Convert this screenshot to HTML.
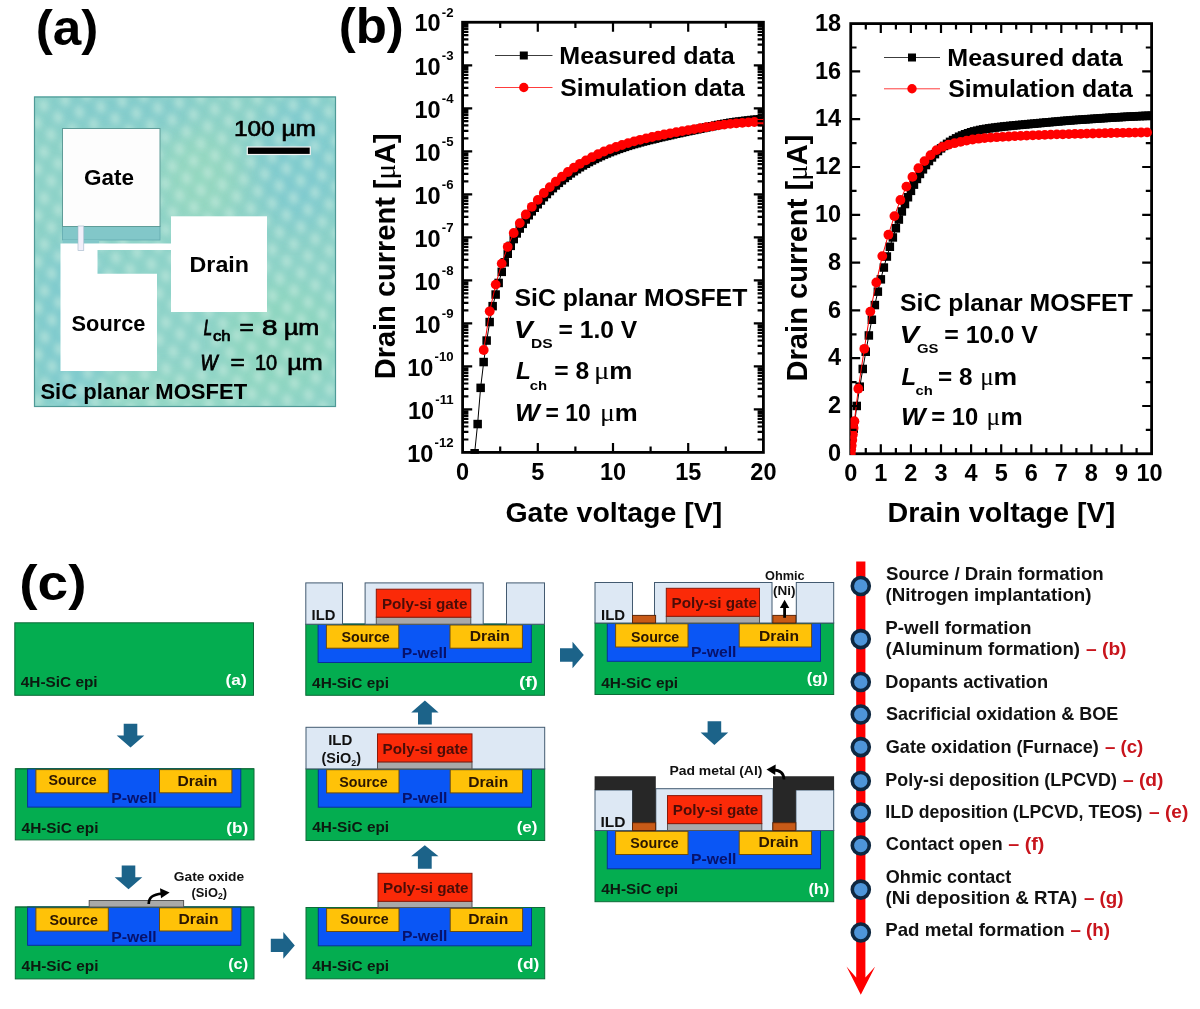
<!DOCTYPE html>
<html><head><meta charset="utf-8"><title>SiC planar MOSFET figure</title>
<style>
html,body{margin:0;padding:0;background:#fff;}
svg{display:block;font-family:'Liberation Sans', sans-serif;}
</style></head><body>
<svg width="1200" height="1009" viewBox="0 0 1200 1009">
<rect width="1200" height="1009" fill="#fff"/>
<defs>
<filter id="blur12" x="-50%" y="-50%" width="200%" height="200%"><feGaussianBlur stdDeviation="14"/></filter>
<filter id="blur3" x="-20%" y="-20%" width="140%" height="140%"><feGaussianBlur stdDeviation="3"/></filter>
<pattern id="dots" x="0" y="0" width="22" height="30" patternUnits="userSpaceOnUse" patternTransform="rotate(-14)">
<ellipse cx="6" cy="8" rx="4.5" ry="6.5" fill="#cdeee2"/>
<ellipse cx="17" cy="23" rx="4.5" ry="6.5" fill="#cdeee2"/>
</pattern>
<clipPath id="photoClip"><rect x="34" y="96.5" width="302" height="310.5"/></clipPath>
<clipPath id="clipL"><rect x="462.6" y="22.25" width="300.8" height="431.4"/></clipPath>
<clipPath id="clipR"><rect x="850.5" y="23.6" width="302.4" height="431.5"/></clipPath>
</defs>
<text x="35.7" y="44.8" font-size="50" fill="#000" font-weight="bold" textLength="62.6" lengthAdjust="spacingAndGlyphs">(a)</text>
<text x="338.7" y="43.3" font-size="50" fill="#000" font-weight="bold" textLength="65.1" lengthAdjust="spacingAndGlyphs">(b)</text>
<text x="19.2" y="600.2" font-size="50.5" fill="#000" font-weight="bold" textLength="67.3" lengthAdjust="spacingAndGlyphs">(c)</text>
<rect x="34.0" y="96.5" width="302.0" height="310.5" fill="#8dd2c8"/>
<g clip-path="url(#photoClip)"><g filter="url(#blur12)" opacity="0.55"><ellipse cx="70" cy="330" rx="40" ry="90" fill="#74c4d2"/><ellipse cx="300" cy="160" rx="45" ry="70" fill="#78c6d4"/><ellipse cx="200" cy="180" rx="40" ry="50" fill="#9cdcbc"/><ellipse cx="280" cy="340" rx="60" ry="60" fill="#8fd8ba"/><ellipse cx="120" cy="110" rx="80" ry="20" fill="#7ac6d0"/><ellipse cx="180" cy="395" rx="90" ry="18" fill="#9adcc0"/></g><rect x="20" y="80" width="340" height="350" fill="url(#dots)" filter="url(#blur3)" opacity="0.6"/></g>
<rect x="34.5" y="97" width="301" height="309.5" fill="none" stroke="#4f9a97" stroke-width="1.2"/>
<rect x="62.5" y="226.0" width="97.5" height="14.0" fill="#82c7c9" stroke="#62aab0" stroke-width="0.8"/>
<rect x="62.5" y="240.0" width="36.5" height="3.5" fill="#82c7c9"/>
<rect x="62.5" y="128.5" width="97.5" height="98.0" fill="#fdfdfd" stroke="#5f9c98" stroke-width="1"/>
<rect x="171.0" y="216.3" width="96.0" height="95.7" fill="#ffffff"/>
<path d="M60.5 243.5 H171 V250 H97.5 V273.8 H157 V371 H60.5 Z" fill="#ffffff"/>
<rect x="78.0" y="226.0" width="5.8" height="24.6" fill="#f2effa" stroke="#9fb7c8" stroke-width="0.6"/>
<rect x="247.3" y="147.0" width="63.0" height="7.5" fill="#000" stroke="#f4f4f4" stroke-width="1.2"/>
<text x="233.9" y="136.2" font-size="22.5" fill="#000" font-weight="normal" textLength="82.0" lengthAdjust="spacingAndGlyphs" stroke="#000" stroke-width="0.7">100 µm</text>
<text x="84.1" y="185.3" font-size="22.5" fill="#000" font-weight="bold" textLength="50.0" lengthAdjust="spacingAndGlyphs">Gate</text>
<text x="189.6" y="272.0" font-size="22.5" fill="#000" font-weight="bold" textLength="59.4" lengthAdjust="spacingAndGlyphs">Drain</text>
<text x="71.6" y="330.6" font-size="22.5" fill="#000" font-weight="bold" textLength="73.8" lengthAdjust="spacingAndGlyphs">Source</text>
<text x="40.4" y="398.8" font-size="22.5" fill="#000" font-weight="bold" textLength="206.7" lengthAdjust="spacingAndGlyphs">SiC planar MOSFET</text>
<text x="203.7" y="335.1" font-size="21.5" fill="#000" font-weight="normal" textLength="8.3" lengthAdjust="spacingAndGlyphs" font-style="italic" stroke="#000" stroke-width="1">L</text>
<text x="212.9" y="341.0" font-size="15" fill="#000" font-weight="normal" textLength="17.6" lengthAdjust="spacingAndGlyphs" stroke="#000" stroke-width="0.7">ch</text>
<text x="239.4" y="335.1" font-size="21.5" fill="#000" font-weight="normal" textLength="14.2" lengthAdjust="spacingAndGlyphs" stroke="#000" stroke-width="0.7">=</text>
<text x="262.0" y="335.1" font-size="21.5" fill="#000" font-weight="normal" textLength="15.5" lengthAdjust="spacingAndGlyphs" stroke="#000" stroke-width="0.7">8</text>
<text x="283.9" y="335.1" font-size="21.5" fill="#000" font-weight="normal" textLength="35.4" lengthAdjust="spacingAndGlyphs" stroke="#000" stroke-width="0.7">µm</text>
<text x="200.5" y="370.0" font-size="21.5" fill="#000" font-weight="normal" textLength="17.1" lengthAdjust="spacingAndGlyphs" font-style="italic" stroke="#000" stroke-width="0.9">W</text>
<text x="230.4" y="370.0" font-size="21.5" fill="#000" font-weight="normal" textLength="14.2" lengthAdjust="spacingAndGlyphs" stroke="#000" stroke-width="0.7">=</text>
<text x="254.9" y="370.0" font-size="21.5" fill="#000" font-weight="normal" textLength="22.2" lengthAdjust="spacingAndGlyphs" stroke="#000" stroke-width="0.7">10</text>
<text x="287.2" y="370.0" font-size="21.5" fill="#000" font-weight="normal" textLength="35.5" lengthAdjust="spacingAndGlyphs" stroke="#000" stroke-width="0.7">µm</text>
<rect x="462.6" y="22.25" width="300.79999999999995" height="430.15" fill="none" stroke="#000" stroke-width="2.8"/>
<g clip-path="url(#clipL)">
<polyline fill="none" stroke="#000" stroke-width="1" points="474.6,453.3 477.6,424.0 480.6,387.9 483.7,362.1 486.7,340.6 489.7,322.1 492.7,306.1 495.7,294.5 498.7,282.9 501.7,271.9 504.7,262.3 507.7,253.7 510.7,245.9 513.7,239.0 516.7,233.5 519.8,228.6 522.8,223.9 525.8,219.5 528.8,215.3 531.8,211.3 534.8,207.7 537.8,204.2 540.8,200.6 543.8,197.1 546.8,194.0 549.8,191.0 552.8,188.2 555.8,185.4 558.9,182.8 561.9,180.3 564.9,177.9 567.9,175.6 570.9,173.4 573.9,171.3 576.9,169.2 579.9,167.3 582.9,165.5 585.9,163.7 588.9,162.1 591.9,160.5 595.0,158.9 598.0,157.5 601.0,156.0 604.0,154.7 607.0,153.4 610.0,152.2 613.0,151.0 616.0,149.9 619.0,148.8 622.0,147.8 625.0,146.8 628.0,145.9 631.0,145.0 634.1,144.1 637.1,143.2 640.1,142.4 643.1,141.6 646.1,140.8 649.1,140.1 652.1,139.3 655.1,138.6 658.1,137.9 661.1,137.2 664.1,136.5 667.1,135.8 670.2,135.1 673.2,134.4 676.2,133.8 679.2,133.1 682.2,132.5 685.2,131.8 688.2,131.2 691.2,130.6 694.2,130.0 697.2,129.3 700.2,128.7 703.2,128.1 706.2,127.5 709.3,126.8 712.3,126.2 715.3,125.6 718.3,125.0 721.3,124.4 724.3,123.8 727.3,123.3 730.3,122.8 733.3,122.3 736.3,121.9 739.3,121.5 742.3,121.1 745.4,120.8 748.4,120.4 751.4,120.1 754.4,119.8 757.4,119.5 760.4,119.3 763.4,119.0"/>
<g fill="#000"><rect x="470.4" y="449.0" width="8.5" height="8.5"/><rect x="473.4" y="419.8" width="8.5" height="8.5"/><rect x="476.4" y="383.6" width="8.5" height="8.5"/><rect x="479.4" y="357.8" width="8.5" height="8.5"/><rect x="482.4" y="336.3" width="8.5" height="8.5"/><rect x="485.4" y="317.8" width="8.5" height="8.5"/><rect x="488.4" y="301.9" width="8.5" height="8.5"/><rect x="491.4" y="290.3" width="8.5" height="8.5"/><rect x="494.4" y="278.7" width="8.5" height="8.5"/><rect x="497.5" y="267.6" width="8.5" height="8.5"/><rect x="500.5" y="258.1" width="8.5" height="8.5"/><rect x="503.5" y="249.5" width="8.5" height="8.5"/><rect x="506.5" y="241.6" width="8.5" height="8.5"/><rect x="509.5" y="234.8" width="8.5" height="8.5"/><rect x="512.5" y="229.2" width="8.5" height="8.5"/><rect x="515.5" y="224.3" width="8.5" height="8.5"/><rect x="518.5" y="219.6" width="8.5" height="8.5"/><rect x="521.5" y="215.2" width="8.5" height="8.5"/><rect x="524.5" y="211.0" width="8.5" height="8.5"/><rect x="527.5" y="207.1" width="8.5" height="8.5"/><rect x="530.5" y="203.5" width="8.5" height="8.5"/><rect x="533.5" y="200.0" width="8.5" height="8.5"/><rect x="536.6" y="196.3" width="8.5" height="8.5"/><rect x="539.6" y="192.9" width="8.5" height="8.5"/><rect x="542.6" y="189.8" width="8.5" height="8.5"/><rect x="545.6" y="186.8" width="8.5" height="8.5"/><rect x="548.6" y="183.9" width="8.5" height="8.5"/><rect x="551.6" y="181.2" width="8.5" height="8.5"/><rect x="554.6" y="178.6" width="8.5" height="8.5"/><rect x="557.6" y="176.1" width="8.5" height="8.5"/><rect x="560.6" y="173.7" width="8.5" height="8.5"/><rect x="563.6" y="171.4" width="8.5" height="8.5"/><rect x="566.6" y="169.1" width="8.5" height="8.5"/><rect x="569.6" y="167.0" width="8.5" height="8.5"/><rect x="572.7" y="165.0" width="8.5" height="8.5"/><rect x="575.7" y="163.0" width="8.5" height="8.5"/><rect x="578.7" y="161.2" width="8.5" height="8.5"/><rect x="581.7" y="159.5" width="8.5" height="8.5"/><rect x="584.7" y="157.8" width="8.5" height="8.5"/><rect x="587.7" y="156.2" width="8.5" height="8.5"/><rect x="590.7" y="154.7" width="8.5" height="8.5"/><rect x="593.7" y="153.2" width="8.5" height="8.5"/><rect x="596.7" y="151.8" width="8.5" height="8.5"/><rect x="599.7" y="150.4" width="8.5" height="8.5"/><rect x="602.7" y="149.2" width="8.5" height="8.5"/><rect x="605.7" y="147.9" width="8.5" height="8.5"/><rect x="608.8" y="146.8" width="8.5" height="8.5"/><rect x="611.8" y="145.7" width="8.5" height="8.5"/><rect x="614.8" y="144.6" width="8.5" height="8.5"/><rect x="617.8" y="143.6" width="8.5" height="8.5"/><rect x="620.8" y="142.6" width="8.5" height="8.5"/><rect x="623.8" y="141.6" width="8.5" height="8.5"/><rect x="626.8" y="140.7" width="8.5" height="8.5"/><rect x="629.8" y="139.8" width="8.5" height="8.5"/><rect x="632.8" y="139.0" width="8.5" height="8.5"/><rect x="635.8" y="138.1" width="8.5" height="8.5"/><rect x="638.8" y="137.3" width="8.5" height="8.5"/><rect x="641.8" y="136.6" width="8.5" height="8.5"/><rect x="644.8" y="135.8" width="8.5" height="8.5"/><rect x="647.9" y="135.1" width="8.5" height="8.5"/><rect x="650.9" y="134.4" width="8.5" height="8.5"/><rect x="653.9" y="133.6" width="8.5" height="8.5"/><rect x="656.9" y="132.9" width="8.5" height="8.5"/><rect x="659.9" y="132.2" width="8.5" height="8.5"/><rect x="662.9" y="131.6" width="8.5" height="8.5"/><rect x="665.9" y="130.9" width="8.5" height="8.5"/><rect x="668.9" y="130.2" width="8.5" height="8.5"/><rect x="671.9" y="129.5" width="8.5" height="8.5"/><rect x="674.9" y="128.9" width="8.5" height="8.5"/><rect x="677.9" y="128.2" width="8.5" height="8.5"/><rect x="680.9" y="127.6" width="8.5" height="8.5"/><rect x="684.0" y="126.9" width="8.5" height="8.5"/><rect x="687.0" y="126.3" width="8.5" height="8.5"/><rect x="690.0" y="125.7" width="8.5" height="8.5"/><rect x="693.0" y="125.1" width="8.5" height="8.5"/><rect x="696.0" y="124.5" width="8.5" height="8.5"/><rect x="699.0" y="123.8" width="8.5" height="8.5"/><rect x="702.0" y="123.2" width="8.5" height="8.5"/><rect x="705.0" y="122.6" width="8.5" height="8.5"/><rect x="708.0" y="122.0" width="8.5" height="8.5"/><rect x="711.0" y="121.3" width="8.5" height="8.5"/><rect x="714.0" y="120.7" width="8.5" height="8.5"/><rect x="717.0" y="120.1" width="8.5" height="8.5"/><rect x="720.0" y="119.6" width="8.5" height="8.5"/><rect x="723.1" y="119.0" width="8.5" height="8.5"/><rect x="726.1" y="118.5" width="8.5" height="8.5"/><rect x="729.1" y="118.1" width="8.5" height="8.5"/><rect x="732.1" y="117.6" width="8.5" height="8.5"/><rect x="735.1" y="117.3" width="8.5" height="8.5"/><rect x="738.1" y="116.9" width="8.5" height="8.5"/><rect x="741.1" y="116.5" width="8.5" height="8.5"/><rect x="744.1" y="116.2" width="8.5" height="8.5"/><rect x="747.1" y="115.8" width="8.5" height="8.5"/><rect x="750.1" y="115.5" width="8.5" height="8.5"/><rect x="753.1" y="115.3" width="8.5" height="8.5"/><rect x="756.1" y="115.0" width="8.5" height="8.5"/><rect x="759.1" y="114.8" width="8.5" height="8.5"/></g>
<polyline fill="none" stroke="#ff0000" stroke-width="1" points="483.7,350.0 489.7,311.3 495.7,284.6 501.7,263.6 507.7,246.8 513.7,233.0 519.8,223.1 525.8,214.5 531.8,206.8 537.8,199.9 543.8,193.0 549.8,187.1 555.8,181.6 561.9,176.6 567.9,172.0 573.9,167.7 579.9,163.8 585.9,160.4 591.9,157.2 598.0,154.2 604.0,151.5 610.0,149.1 616.0,147.0 622.0,145.0 628.0,143.1 634.1,141.4 640.1,139.8 646.1,138.4 652.1,137.0 658.1,135.7 664.1,134.5 670.2,133.3 676.2,132.2 682.2,131.1 688.2,130.1 694.2,129.1 700.2,128.1 706.2,127.2 712.3,126.3 718.3,125.4 724.3,124.6 730.3,123.9 736.3,123.3 742.3,122.8 748.4,122.4 754.4,122.0 760.4,121.7"/>
<g fill="#ff0000"><circle cx="483.7" cy="350.0" r="4.9"/><circle cx="489.7" cy="311.3" r="4.9"/><circle cx="495.7" cy="284.6" r="4.9"/><circle cx="501.7" cy="263.6" r="4.9"/><circle cx="507.7" cy="246.8" r="4.9"/><circle cx="513.7" cy="233.0" r="4.9"/><circle cx="519.8" cy="223.1" r="4.9"/><circle cx="525.8" cy="214.5" r="4.9"/><circle cx="531.8" cy="206.8" r="4.9"/><circle cx="537.8" cy="199.9" r="4.9"/><circle cx="543.8" cy="193.0" r="4.9"/><circle cx="549.8" cy="187.1" r="4.9"/><circle cx="555.8" cy="181.6" r="4.9"/><circle cx="561.9" cy="176.6" r="4.9"/><circle cx="567.9" cy="172.0" r="4.9"/><circle cx="573.9" cy="167.7" r="4.9"/><circle cx="579.9" cy="163.8" r="4.9"/><circle cx="585.9" cy="160.4" r="4.9"/><circle cx="591.9" cy="157.2" r="4.9"/><circle cx="598.0" cy="154.2" r="4.9"/><circle cx="604.0" cy="151.5" r="4.9"/><circle cx="610.0" cy="149.1" r="4.9"/><circle cx="616.0" cy="147.0" r="4.9"/><circle cx="622.0" cy="145.0" r="4.9"/><circle cx="628.0" cy="143.1" r="4.9"/><circle cx="634.1" cy="141.4" r="4.9"/><circle cx="640.1" cy="139.8" r="4.9"/><circle cx="646.1" cy="138.4" r="4.9"/><circle cx="652.1" cy="137.0" r="4.9"/><circle cx="658.1" cy="135.7" r="4.9"/><circle cx="664.1" cy="134.5" r="4.9"/><circle cx="670.2" cy="133.3" r="4.9"/><circle cx="676.2" cy="132.2" r="4.9"/><circle cx="682.2" cy="131.1" r="4.9"/><circle cx="688.2" cy="130.1" r="4.9"/><circle cx="694.2" cy="129.1" r="4.9"/><circle cx="700.2" cy="128.1" r="4.9"/><circle cx="706.2" cy="127.2" r="4.9"/><circle cx="712.3" cy="126.3" r="4.9"/><circle cx="718.3" cy="125.4" r="4.9"/><circle cx="724.3" cy="124.6" r="4.9"/><circle cx="730.3" cy="123.9" r="4.9"/><circle cx="736.3" cy="123.3" r="4.9"/><circle cx="742.3" cy="122.8" r="4.9"/><circle cx="748.4" cy="122.4" r="4.9"/><circle cx="754.4" cy="122.0" r="4.9"/><circle cx="760.4" cy="121.7" r="4.9"/></g>
</g>
<path d="M537.8 452.4v-9.4M613.0 452.4v-9.4M688.2 452.4v-9.4" stroke="#000" stroke-width="2.2" fill="none"/>
<path d="M537.8 22.25v9.4M613.0 22.25v9.4M688.2 22.25v9.4" stroke="#000" stroke-width="2.2" fill="none"/>
<path d="M500.2 452.4v-5.8M575.4 452.4v-5.8M650.6 452.4v-5.8M725.8 452.4v-5.8" stroke="#000" stroke-width="2.2" fill="none"/>
<path d="M500.2 22.25v5.8M575.4 22.25v5.8M650.6 22.25v5.8M725.8 22.25v5.8" stroke="#000" stroke-width="2.2" fill="none"/>
<path d="M462.6 65.3h9.6M462.6 108.3h9.6M462.6 151.3h9.6M462.6 194.3h9.6M462.6 237.3h9.6M462.6 280.3h9.6M462.6 323.4h9.6M462.6 366.4h9.6M462.6 409.4h9.6" stroke="#000" stroke-width="2.2" fill="none"/>
<path d="M763.4 65.3h-9.6M763.4 108.3h-9.6M763.4 151.3h-9.6M763.4 194.3h-9.6M763.4 237.3h-9.6M763.4 280.3h-9.6M763.4 323.4h-9.6M763.4 366.4h-9.6M763.4 409.4h-9.6" stroke="#000" stroke-width="2.2" fill="none"/>
<path d="M462.6 52.3h5.8M462.6 44.7h5.8M462.6 39.4h5.8M462.6 35.2h5.8M462.6 31.8h5.8M462.6 28.9h5.8M462.6 26.4h5.8M462.6 24.2h5.8M462.6 95.3h5.8M462.6 87.8h5.8M462.6 82.4h5.8M462.6 78.2h5.8M462.6 74.8h5.8M462.6 71.9h5.8M462.6 69.4h5.8M462.6 67.2h5.8M462.6 138.3h5.8M462.6 130.8h5.8M462.6 125.4h5.8M462.6 121.2h5.8M462.6 117.8h5.8M462.6 114.9h5.8M462.6 112.4h5.8M462.6 110.2h5.8M462.6 181.4h5.8M462.6 173.8h5.8M462.6 168.4h5.8M462.6 164.2h5.8M462.6 160.8h5.8M462.6 158.0h5.8M462.6 155.5h5.8M462.6 153.3h5.8M462.6 224.4h5.8M462.6 216.8h5.8M462.6 211.4h5.8M462.6 207.3h5.8M462.6 203.9h5.8M462.6 201.0h5.8M462.6 198.5h5.8M462.6 196.3h5.8M462.6 267.4h5.8M462.6 259.8h5.8M462.6 254.4h5.8M462.6 250.3h5.8M462.6 246.9h5.8M462.6 244.0h5.8M462.6 241.5h5.8M462.6 239.3h5.8M462.6 310.4h5.8M462.6 302.8h5.8M462.6 297.5h5.8M462.6 293.3h5.8M462.6 289.9h5.8M462.6 287.0h5.8M462.6 284.5h5.8M462.6 282.3h5.8M462.6 353.4h5.8M462.6 345.8h5.8M462.6 340.5h5.8M462.6 336.3h5.8M462.6 332.9h5.8M462.6 330.0h5.8M462.6 327.5h5.8M462.6 325.3h5.8M462.6 396.4h5.8M462.6 388.9h5.8M462.6 383.5h5.8M462.6 379.3h5.8M462.6 375.9h5.8M462.6 373.0h5.8M462.6 370.5h5.8M462.6 368.3h5.8M462.6 439.5h5.8M462.6 431.9h5.8M462.6 426.5h5.8M462.6 422.3h5.8M462.6 418.9h5.8M462.6 416.0h5.8M462.6 413.6h5.8M462.6 411.4h5.8" stroke="#000" stroke-width="2.2" fill="none"/>
<path d="M763.4 52.3h-5.8M763.4 44.7h-5.8M763.4 39.4h-5.8M763.4 35.2h-5.8M763.4 31.8h-5.8M763.4 28.9h-5.8M763.4 26.4h-5.8M763.4 24.2h-5.8M763.4 95.3h-5.8M763.4 87.8h-5.8M763.4 82.4h-5.8M763.4 78.2h-5.8M763.4 74.8h-5.8M763.4 71.9h-5.8M763.4 69.4h-5.8M763.4 67.2h-5.8M763.4 138.3h-5.8M763.4 130.8h-5.8M763.4 125.4h-5.8M763.4 121.2h-5.8M763.4 117.8h-5.8M763.4 114.9h-5.8M763.4 112.4h-5.8M763.4 110.2h-5.8M763.4 181.4h-5.8M763.4 173.8h-5.8M763.4 168.4h-5.8M763.4 164.2h-5.8M763.4 160.8h-5.8M763.4 158.0h-5.8M763.4 155.5h-5.8M763.4 153.3h-5.8M763.4 224.4h-5.8M763.4 216.8h-5.8M763.4 211.4h-5.8M763.4 207.3h-5.8M763.4 203.9h-5.8M763.4 201.0h-5.8M763.4 198.5h-5.8M763.4 196.3h-5.8M763.4 267.4h-5.8M763.4 259.8h-5.8M763.4 254.4h-5.8M763.4 250.3h-5.8M763.4 246.9h-5.8M763.4 244.0h-5.8M763.4 241.5h-5.8M763.4 239.3h-5.8M763.4 310.4h-5.8M763.4 302.8h-5.8M763.4 297.5h-5.8M763.4 293.3h-5.8M763.4 289.9h-5.8M763.4 287.0h-5.8M763.4 284.5h-5.8M763.4 282.3h-5.8M763.4 353.4h-5.8M763.4 345.8h-5.8M763.4 340.5h-5.8M763.4 336.3h-5.8M763.4 332.9h-5.8M763.4 330.0h-5.8M763.4 327.5h-5.8M763.4 325.3h-5.8M763.4 396.4h-5.8M763.4 388.9h-5.8M763.4 383.5h-5.8M763.4 379.3h-5.8M763.4 375.9h-5.8M763.4 373.0h-5.8M763.4 370.5h-5.8M763.4 368.3h-5.8M763.4 439.5h-5.8M763.4 431.9h-5.8M763.4 426.5h-5.8M763.4 422.3h-5.8M763.4 418.9h-5.8M763.4 416.0h-5.8M763.4 413.6h-5.8M763.4 411.4h-5.8" stroke="#000" stroke-width="2.2" fill="none"/>
<text x="462.6" y="480.3" font-size="23.5" fill="#000" font-weight="bold" text-anchor="middle">0</text>
<text x="537.8" y="480.3" font-size="23.5" fill="#000" font-weight="bold" text-anchor="middle">5</text>
<text x="613.0" y="480.3" font-size="23.5" fill="#000" font-weight="bold" text-anchor="middle">10</text>
<text x="688.2" y="480.3" font-size="23.5" fill="#000" font-weight="bold" text-anchor="middle">15</text>
<text x="763.4" y="480.3" font-size="23.5" fill="#000" font-weight="bold" text-anchor="middle">20</text>
<text x="453.6" y="31.4" font-size="23.5" font-weight="bold" text-anchor="end">10<tspan font-size="13.2" dy="-14.6" dx="1.2">-2</tspan></text>
<text x="453.6" y="74.5" font-size="23.5" font-weight="bold" text-anchor="end">10<tspan font-size="13.2" dy="-14.6" dx="1.2">-3</tspan></text>
<text x="453.6" y="117.5" font-size="23.5" font-weight="bold" text-anchor="end">10<tspan font-size="13.2" dy="-14.6" dx="1.2">-4</tspan></text>
<text x="453.6" y="160.5" font-size="23.5" font-weight="bold" text-anchor="end">10<tspan font-size="13.2" dy="-14.6" dx="1.2">-5</tspan></text>
<text x="453.6" y="203.5" font-size="23.5" font-weight="bold" text-anchor="end">10<tspan font-size="13.2" dy="-14.6" dx="1.2">-6</tspan></text>
<text x="453.6" y="246.5" font-size="23.5" font-weight="bold" text-anchor="end">10<tspan font-size="13.2" dy="-14.6" dx="1.2">-7</tspan></text>
<text x="453.6" y="289.5" font-size="23.5" font-weight="bold" text-anchor="end">10<tspan font-size="13.2" dy="-14.6" dx="1.2">-8</tspan></text>
<text x="453.6" y="332.6" font-size="23.5" font-weight="bold" text-anchor="end">10<tspan font-size="13.2" dy="-14.6" dx="1.2">-9</tspan></text>
<text x="453.6" y="375.6" font-size="23.5" font-weight="bold" text-anchor="end">10<tspan font-size="13.2" dy="-14.6" dx="1.2">-10</tspan></text>
<text x="453.6" y="418.6" font-size="23.5" font-weight="bold" text-anchor="end">10<tspan font-size="13.2" dy="-14.6" dx="1.2">-11</tspan></text>
<text x="453.6" y="461.6" font-size="23.5" font-weight="bold" text-anchor="end">10<tspan font-size="13.2" dy="-14.6" dx="1.2">-12</tspan></text>
<text x="505.4" y="522.0" font-size="28" fill="#000" font-weight="bold" textLength="216.8" lengthAdjust="spacingAndGlyphs">Gate voltage [V]</text>
<text transform="translate(395.4 256.3) rotate(-90)" font-size="29.5" font-weight="bold" text-anchor="middle" textLength="246" lengthAdjust="spacingAndGlyphs">Drain current [<tspan font-family="'Liberation Serif', serif" font-weight="normal">μ</tspan>A]</text>
<path d="M495 55.5H552.5" stroke="#000" stroke-width="0.9" opacity="0.85"/>
<rect x="519.8" y="51.5" width="8" height="8" fill="#000"/>
<text x="559.3" y="64.0" font-size="24.5" fill="#000" font-weight="bold" textLength="175.5" lengthAdjust="spacingAndGlyphs">Measured data</text>
<path d="M495 87.5H552.5" stroke="#ff0000" stroke-width="0.9" opacity="0.85"/>
<circle cx="523.8" cy="87.5" r="4.7" fill="#ff0000"/>
<text x="560.3" y="95.5" font-size="24.5" fill="#000" font-weight="bold" textLength="184.6" lengthAdjust="spacingAndGlyphs">Simulation data</text>
<text x="514.5" y="305.8" font-size="24" fill="#000" font-weight="bold" textLength="232.8" lengthAdjust="spacingAndGlyphs">SiC planar MOSFET</text>
<text x="513.9" y="338.3" font-size="24" fill="#000" font-weight="bold" textLength="18.8" lengthAdjust="spacingAndGlyphs" font-style="italic">V</text>
<text x="531.0" y="348.4" font-size="13.5" fill="#000" font-weight="bold" textLength="21.7" lengthAdjust="spacingAndGlyphs">DS</text>
<text x="558.6" y="338.3" font-size="24" fill="#000" font-weight="bold" textLength="78.6" lengthAdjust="spacingAndGlyphs">= 1.0 V</text>
<text x="515.9" y="379.4" font-size="24" fill="#000" font-weight="bold" textLength="14.9" lengthAdjust="spacingAndGlyphs" font-style="italic">L</text>
<text x="529.7" y="389.8" font-size="13.5" fill="#000" font-weight="bold" textLength="17.4" lengthAdjust="spacingAndGlyphs">ch</text>
<text x="554.3" y="379.4" font-size="24" fill="#000" font-weight="bold" textLength="34.9" lengthAdjust="spacingAndGlyphs">= 8</text>
<text x="594.1" y="379.4" font-size="26" fill="#000" font-weight="normal" textLength="15.4" lengthAdjust="spacingAndGlyphs" font-family="'Liberation Serif', serif">μ</text>
<text x="609.2" y="379.4" font-size="24" fill="#000" font-weight="bold" textLength="23.1" lengthAdjust="spacingAndGlyphs">m</text>
<text x="515.0" y="420.6" font-size="24" fill="#000" font-weight="bold" textLength="24.7" lengthAdjust="spacingAndGlyphs" font-style="italic">W</text>
<text x="545.6" y="420.6" font-size="24" fill="#000" font-weight="bold" textLength="45.2" lengthAdjust="spacingAndGlyphs">= 10</text>
<text x="600.0" y="420.6" font-size="26" fill="#000" font-weight="normal" textLength="14.9" lengthAdjust="spacingAndGlyphs" font-family="'Liberation Serif', serif">μ</text>
<text x="614.7" y="420.6" font-size="24" fill="#000" font-weight="bold" textLength="22.9" lengthAdjust="spacingAndGlyphs">m</text>
<rect x="850.75" y="23.6" width="300.8499999999999" height="430.15" fill="none" stroke="#000" stroke-width="2.8"/>
<g clip-path="url(#clipR)">
<polyline fill="none" stroke="#000" stroke-width="1" points="850.8,453.8 853.8,428.7 856.8,406.0 859.8,386.7 862.8,368.9 865.8,351.8 868.8,335.5 871.8,319.8 874.8,305.1 877.8,291.7 880.8,279.3 883.8,267.5 886.9,256.6 889.9,246.8 892.9,237.5 895.9,228.3 898.9,219.6 901.9,211.5 904.9,204.0 907.9,197.2 910.9,190.9 913.9,184.7 916.9,178.9 919.9,173.9 923.0,169.4 926.0,165.1 929.0,161.1 932.0,157.4 935.0,154.1 938.0,151.1 941.0,148.3 944.0,146.0 947.0,143.8 950.0,141.9 953.0,140.1 956.0,138.3 959.1,136.8 962.1,135.4 965.1,134.3 968.1,133.2 971.1,132.3 974.1,131.4 977.1,130.6 980.1,129.9 983.1,129.4 986.1,128.9 989.1,128.4 992.1,128.0 995.2,127.6 998.2,127.2 1001.2,126.8 1004.2,126.5 1007.2,126.2 1010.2,125.8 1013.2,125.5 1016.2,125.3 1019.2,125.0 1022.2,124.7 1025.2,124.4 1028.3,124.2 1031.3,123.9 1034.3,123.6 1037.3,123.3 1040.3,123.0 1043.3,122.8 1046.3,122.5 1049.3,122.2 1052.3,121.9 1055.3,121.7 1058.3,121.4 1061.3,121.1 1064.4,120.9 1067.4,120.6 1070.4,120.4 1073.4,120.2 1076.4,119.9 1079.4,119.7 1082.4,119.5 1085.4,119.3 1088.4,119.1 1091.4,118.9 1094.4,118.7 1097.4,118.5 1100.5,118.3 1103.5,118.1 1106.5,117.9 1109.5,117.8 1112.5,117.6 1115.5,117.4 1118.5,117.2 1121.5,117.1 1124.5,116.9 1127.5,116.7 1130.5,116.6 1133.5,116.4 1136.6,116.3 1139.6,116.1 1142.6,116.0 1145.6,115.9 1148.6,115.7 1151.6,115.6"/>
<g fill="#000"><rect x="846.5" y="449.5" width="8.5" height="8.5"/><rect x="849.5" y="424.4" width="8.5" height="8.5"/><rect x="852.5" y="401.7" width="8.5" height="8.5"/><rect x="855.5" y="382.4" width="8.5" height="8.5"/><rect x="858.5" y="364.7" width="8.5" height="8.5"/><rect x="861.5" y="347.5" width="8.5" height="8.5"/><rect x="864.6" y="331.2" width="8.5" height="8.5"/><rect x="867.6" y="315.5" width="8.5" height="8.5"/><rect x="870.6" y="300.8" width="8.5" height="8.5"/><rect x="873.6" y="287.4" width="8.5" height="8.5"/><rect x="876.6" y="275.1" width="8.5" height="8.5"/><rect x="879.6" y="263.3" width="8.5" height="8.5"/><rect x="882.6" y="252.3" width="8.5" height="8.5"/><rect x="885.6" y="242.5" width="8.5" height="8.5"/><rect x="888.6" y="233.2" width="8.5" height="8.5"/><rect x="891.6" y="224.0" width="8.5" height="8.5"/><rect x="894.6" y="215.3" width="8.5" height="8.5"/><rect x="897.6" y="207.2" width="8.5" height="8.5"/><rect x="900.7" y="199.8" width="8.5" height="8.5"/><rect x="903.7" y="193.0" width="8.5" height="8.5"/><rect x="906.7" y="186.6" width="8.5" height="8.5"/><rect x="909.7" y="180.4" width="8.5" height="8.5"/><rect x="912.7" y="174.7" width="8.5" height="8.5"/><rect x="915.7" y="169.7" width="8.5" height="8.5"/><rect x="918.7" y="165.1" width="8.5" height="8.5"/><rect x="921.7" y="160.8" width="8.5" height="8.5"/><rect x="924.7" y="156.8" width="8.5" height="8.5"/><rect x="927.7" y="153.2" width="8.5" height="8.5"/><rect x="930.7" y="149.9" width="8.5" height="8.5"/><rect x="933.7" y="146.8" width="8.5" height="8.5"/><rect x="936.8" y="144.1" width="8.5" height="8.5"/><rect x="939.8" y="141.7" width="8.5" height="8.5"/><rect x="942.8" y="139.6" width="8.5" height="8.5"/><rect x="945.8" y="137.6" width="8.5" height="8.5"/><rect x="948.8" y="135.8" width="8.5" height="8.5"/><rect x="951.8" y="134.1" width="8.5" height="8.5"/><rect x="954.8" y="132.5" width="8.5" height="8.5"/><rect x="957.8" y="131.2" width="8.5" height="8.5"/><rect x="960.8" y="130.0" width="8.5" height="8.5"/><rect x="963.8" y="129.0" width="8.5" height="8.5"/><rect x="966.8" y="128.0" width="8.5" height="8.5"/><rect x="969.8" y="127.1" width="8.5" height="8.5"/><rect x="972.9" y="126.4" width="8.5" height="8.5"/><rect x="975.9" y="125.7" width="8.5" height="8.5"/><rect x="978.9" y="125.1" width="8.5" height="8.5"/><rect x="981.9" y="124.6" width="8.5" height="8.5"/><rect x="984.9" y="124.1" width="8.5" height="8.5"/><rect x="987.9" y="123.7" width="8.5" height="8.5"/><rect x="990.9" y="123.3" width="8.5" height="8.5"/><rect x="993.9" y="122.9" width="8.5" height="8.5"/><rect x="996.9" y="122.6" width="8.5" height="8.5"/><rect x="999.9" y="122.2" width="8.5" height="8.5"/><rect x="1002.9" y="121.9" width="8.5" height="8.5"/><rect x="1006.0" y="121.6" width="8.5" height="8.5"/><rect x="1009.0" y="121.3" width="8.5" height="8.5"/><rect x="1012.0" y="121.0" width="8.5" height="8.5"/><rect x="1015.0" y="120.7" width="8.5" height="8.5"/><rect x="1018.0" y="120.5" width="8.5" height="8.5"/><rect x="1021.0" y="120.2" width="8.5" height="8.5"/><rect x="1024.0" y="119.9" width="8.5" height="8.5"/><rect x="1027.0" y="119.6" width="8.5" height="8.5"/><rect x="1030.0" y="119.4" width="8.5" height="8.5"/><rect x="1033.0" y="119.1" width="8.5" height="8.5"/><rect x="1036.0" y="118.8" width="8.5" height="8.5"/><rect x="1039.0" y="118.5" width="8.5" height="8.5"/><rect x="1042.1" y="118.2" width="8.5" height="8.5"/><rect x="1045.1" y="118.0" width="8.5" height="8.5"/><rect x="1048.1" y="117.7" width="8.5" height="8.5"/><rect x="1051.1" y="117.4" width="8.5" height="8.5"/><rect x="1054.1" y="117.2" width="8.5" height="8.5"/><rect x="1057.1" y="116.9" width="8.5" height="8.5"/><rect x="1060.1" y="116.6" width="8.5" height="8.5"/><rect x="1063.1" y="116.4" width="8.5" height="8.5"/><rect x="1066.1" y="116.2" width="8.5" height="8.5"/><rect x="1069.1" y="115.9" width="8.5" height="8.5"/><rect x="1072.1" y="115.7" width="8.5" height="8.5"/><rect x="1075.1" y="115.5" width="8.5" height="8.5"/><rect x="1078.2" y="115.3" width="8.5" height="8.5"/><rect x="1081.2" y="115.1" width="8.5" height="8.5"/><rect x="1084.2" y="114.9" width="8.5" height="8.5"/><rect x="1087.2" y="114.7" width="8.5" height="8.5"/><rect x="1090.2" y="114.5" width="8.5" height="8.5"/><rect x="1093.2" y="114.3" width="8.5" height="8.5"/><rect x="1096.2" y="114.1" width="8.5" height="8.5"/><rect x="1099.2" y="113.9" width="8.5" height="8.5"/><rect x="1102.2" y="113.7" width="8.5" height="8.5"/><rect x="1105.2" y="113.5" width="8.5" height="8.5"/><rect x="1108.2" y="113.3" width="8.5" height="8.5"/><rect x="1111.2" y="113.1" width="8.5" height="8.5"/><rect x="1114.3" y="113.0" width="8.5" height="8.5"/><rect x="1117.3" y="112.8" width="8.5" height="8.5"/><rect x="1120.3" y="112.6" width="8.5" height="8.5"/><rect x="1123.3" y="112.5" width="8.5" height="8.5"/><rect x="1126.3" y="112.3" width="8.5" height="8.5"/><rect x="1129.3" y="112.2" width="8.5" height="8.5"/><rect x="1132.3" y="112.0" width="8.5" height="8.5"/><rect x="1135.3" y="111.9" width="8.5" height="8.5"/><rect x="1138.3" y="111.7" width="8.5" height="8.5"/><rect x="1141.3" y="111.6" width="8.5" height="8.5"/><rect x="1144.3" y="111.5" width="8.5" height="8.5"/><rect x="1147.3" y="111.4" width="8.5" height="8.5"/></g>
<polyline fill="none" stroke="#ff0000" stroke-width="1" points="850.8,453.8 851.2,449.5 851.7,445.4 852.3,440.0 852.9,434.6 853.6,427.9 854.4,421.2 858.3,388.7 864.3,348.8 870.3,311.6 876.3,282.5 882.3,256.1 888.4,234.7 894.4,216.1 900.4,200.0 906.4,186.6 912.4,176.9 918.4,168.2 924.5,161.1 930.5,155.2 936.5,150.1 942.5,146.8 948.5,144.7 954.5,143.2 960.6,141.9 966.6,140.6 972.6,139.5 978.6,138.7 984.6,138.1 990.6,137.6 996.7,137.2 1002.7,136.8 1008.7,136.5 1014.7,136.1 1020.7,135.9 1026.7,135.6 1032.8,135.3 1038.8,135.1 1044.8,134.9 1050.8,134.6 1056.8,134.4 1062.8,134.3 1068.9,134.1 1074.9,133.9 1080.9,133.8 1086.9,133.6 1092.9,133.5 1099.0,133.3 1105.0,133.2 1111.0,133.0 1117.0,132.9 1123.0,132.8 1129.0,132.7 1135.1,132.6 1141.1,132.5 1147.1,132.4"/>
<g fill="#ff0000"><circle cx="850.8" cy="453.8" r="4.9"/><circle cx="851.2" cy="449.5" r="4.9"/><circle cx="851.7" cy="445.4" r="4.9"/><circle cx="852.3" cy="440.0" r="4.9"/><circle cx="852.9" cy="434.6" r="4.9"/><circle cx="853.6" cy="427.9" r="4.9"/><circle cx="854.4" cy="421.2" r="4.9"/><circle cx="858.3" cy="388.7" r="4.9"/><circle cx="864.3" cy="348.8" r="4.9"/><circle cx="870.3" cy="311.6" r="4.9"/><circle cx="876.3" cy="282.5" r="4.9"/><circle cx="882.3" cy="256.1" r="4.9"/><circle cx="888.4" cy="234.7" r="4.9"/><circle cx="894.4" cy="216.1" r="4.9"/><circle cx="900.4" cy="200.0" r="4.9"/><circle cx="906.4" cy="186.6" r="4.9"/><circle cx="912.4" cy="176.9" r="4.9"/><circle cx="918.4" cy="168.2" r="4.9"/><circle cx="924.5" cy="161.1" r="4.9"/><circle cx="930.5" cy="155.2" r="4.9"/><circle cx="936.5" cy="150.1" r="4.9"/><circle cx="942.5" cy="146.8" r="4.9"/><circle cx="948.5" cy="144.7" r="4.9"/><circle cx="954.5" cy="143.2" r="4.9"/><circle cx="960.6" cy="141.9" r="4.9"/><circle cx="966.6" cy="140.6" r="4.9"/><circle cx="972.6" cy="139.5" r="4.9"/><circle cx="978.6" cy="138.7" r="4.9"/><circle cx="984.6" cy="138.1" r="4.9"/><circle cx="990.6" cy="137.6" r="4.9"/><circle cx="996.7" cy="137.2" r="4.9"/><circle cx="1002.7" cy="136.8" r="4.9"/><circle cx="1008.7" cy="136.5" r="4.9"/><circle cx="1014.7" cy="136.1" r="4.9"/><circle cx="1020.7" cy="135.9" r="4.9"/><circle cx="1026.7" cy="135.6" r="4.9"/><circle cx="1032.8" cy="135.3" r="4.9"/><circle cx="1038.8" cy="135.1" r="4.9"/><circle cx="1044.8" cy="134.9" r="4.9"/><circle cx="1050.8" cy="134.6" r="4.9"/><circle cx="1056.8" cy="134.4" r="4.9"/><circle cx="1062.8" cy="134.3" r="4.9"/><circle cx="1068.9" cy="134.1" r="4.9"/><circle cx="1074.9" cy="133.9" r="4.9"/><circle cx="1080.9" cy="133.8" r="4.9"/><circle cx="1086.9" cy="133.6" r="4.9"/><circle cx="1092.9" cy="133.5" r="4.9"/><circle cx="1099.0" cy="133.3" r="4.9"/><circle cx="1105.0" cy="133.2" r="4.9"/><circle cx="1111.0" cy="133.0" r="4.9"/><circle cx="1117.0" cy="132.9" r="4.9"/><circle cx="1123.0" cy="132.8" r="4.9"/><circle cx="1129.0" cy="132.7" r="4.9"/><circle cx="1135.1" cy="132.6" r="4.9"/><circle cx="1141.1" cy="132.5" r="4.9"/><circle cx="1147.1" cy="132.4" r="4.9"/></g>
</g>
<path d="M880.8 453.75v-9.4M910.9 453.75v-9.4M941.0 453.75v-9.4M971.1 453.75v-9.4M1001.2 453.75v-9.4M1031.3 453.75v-9.4M1061.3 453.75v-9.4M1091.4 453.75v-9.4M1121.5 453.75v-9.4" stroke="#000" stroke-width="2.2" fill="none"/>
<path d="M880.8 23.6v9.4M910.9 23.6v9.4M941.0 23.6v9.4M971.1 23.6v9.4M1001.2 23.6v9.4M1031.3 23.6v9.4M1061.3 23.6v9.4M1091.4 23.6v9.4M1121.5 23.6v9.4" stroke="#000" stroke-width="2.2" fill="none"/>
<path d="M865.8 453.75v-5.8M895.9 453.75v-5.8M926.0 453.75v-5.8M956.0 453.75v-5.8M986.1 453.75v-5.8M1016.2 453.75v-5.8M1046.3 453.75v-5.8M1076.4 453.75v-5.8M1106.5 453.75v-5.8M1136.6 453.75v-5.8" stroke="#000" stroke-width="2.2" fill="none"/>
<path d="M865.8 23.6v5.8M895.9 23.6v5.8M926.0 23.6v5.8M956.0 23.6v5.8M986.1 23.6v5.8M1016.2 23.6v5.8M1046.3 23.6v5.8M1076.4 23.6v5.8M1106.5 23.6v5.8M1136.6 23.6v5.8" stroke="#000" stroke-width="2.2" fill="none"/>
<path d="M850.75 406.0h9.4M850.75 358.2h9.4M850.75 310.4h9.4M850.75 262.6h9.4M850.75 214.8h9.4M850.75 167.0h9.4M850.75 119.2h9.4M850.75 71.4h9.4" stroke="#000" stroke-width="2.2" fill="none"/>
<path d="M1151.6 406.0h-9.4M1151.6 358.2h-9.4M1151.6 310.4h-9.4M1151.6 262.6h-9.4M1151.6 214.8h-9.4M1151.6 167.0h-9.4M1151.6 119.2h-9.4M1151.6 71.4h-9.4" stroke="#000" stroke-width="2.2" fill="none"/>
<path d="M850.75 429.9h5.8M850.75 382.1h5.8M850.75 334.3h5.8M850.75 286.5h5.8M850.75 238.7h5.8M850.75 190.9h5.8M850.75 143.1h5.8M850.75 95.3h5.8M850.75 47.5h5.8" stroke="#000" stroke-width="2.2" fill="none"/>
<path d="M1151.6 429.9h-5.8M1151.6 382.1h-5.8M1151.6 334.3h-5.8M1151.6 286.5h-5.8M1151.6 238.7h-5.8M1151.6 190.9h-5.8M1151.6 143.1h-5.8M1151.6 95.3h-5.8M1151.6 47.5h-5.8" stroke="#000" stroke-width="2.2" fill="none"/>
<text x="850.8" y="481.0" font-size="23.5" fill="#000" font-weight="bold" text-anchor="middle">0</text>
<text x="880.8" y="481.0" font-size="23.5" fill="#000" font-weight="bold" text-anchor="middle">1</text>
<text x="910.9" y="481.0" font-size="23.5" fill="#000" font-weight="bold" text-anchor="middle">2</text>
<text x="941.0" y="481.0" font-size="23.5" fill="#000" font-weight="bold" text-anchor="middle">3</text>
<text x="971.1" y="481.0" font-size="23.5" fill="#000" font-weight="bold" text-anchor="middle">4</text>
<text x="1001.2" y="481.0" font-size="23.5" fill="#000" font-weight="bold" text-anchor="middle">5</text>
<text x="1031.3" y="481.0" font-size="23.5" fill="#000" font-weight="bold" text-anchor="middle">6</text>
<text x="1061.3" y="481.0" font-size="23.5" fill="#000" font-weight="bold" text-anchor="middle">7</text>
<text x="1091.4" y="481.0" font-size="23.5" fill="#000" font-weight="bold" text-anchor="middle">8</text>
<text x="1121.5" y="481.0" font-size="23.5" fill="#000" font-weight="bold" text-anchor="middle">9</text>
<text x="1149.5" y="481.0" font-size="23.5" fill="#000" font-weight="bold" text-anchor="middle">10</text>
<text x="841.2" y="460.9" font-size="23.5" fill="#000" font-weight="bold" text-anchor="end">0</text>
<text x="841.2" y="413.1" font-size="23.5" fill="#000" font-weight="bold" text-anchor="end">2</text>
<text x="841.2" y="365.3" font-size="23.5" fill="#000" font-weight="bold" text-anchor="end">4</text>
<text x="841.2" y="317.5" font-size="23.5" fill="#000" font-weight="bold" text-anchor="end">6</text>
<text x="841.2" y="269.7" font-size="23.5" fill="#000" font-weight="bold" text-anchor="end">8</text>
<text x="841.2" y="221.9" font-size="23.5" fill="#000" font-weight="bold" text-anchor="end">10</text>
<text x="841.2" y="174.1" font-size="23.5" fill="#000" font-weight="bold" text-anchor="end">12</text>
<text x="841.2" y="126.3" font-size="23.5" fill="#000" font-weight="bold" text-anchor="end">14</text>
<text x="841.2" y="78.5" font-size="23.5" fill="#000" font-weight="bold" text-anchor="end">16</text>
<text x="841.2" y="30.7" font-size="23.5" fill="#000" font-weight="bold" text-anchor="end">18</text>
<text x="887.6" y="522.0" font-size="28" fill="#000" font-weight="bold" textLength="227.6" lengthAdjust="spacingAndGlyphs">Drain voltage [V]</text>
<text transform="translate(806.6 258) rotate(-90)" font-size="29.5" font-weight="bold" text-anchor="middle" textLength="247" lengthAdjust="spacingAndGlyphs">Drain current [<tspan font-family="'Liberation Serif', serif" font-weight="normal">μ</tspan>A]</text>
<path d="M884 57.5H940" stroke="#000" stroke-width="0.9" opacity="0.85"/>
<rect x="908.0" y="53.5" width="8" height="8" fill="#000"/>
<text x="947.3" y="65.5" font-size="24.5" fill="#000" font-weight="bold" textLength="175.5" lengthAdjust="spacingAndGlyphs">Measured data</text>
<path d="M884 88.8H940" stroke="#ff0000" stroke-width="0.9" opacity="0.85"/>
<circle cx="912.0" cy="88.8" r="4.7" fill="#ff0000"/>
<text x="948.3" y="97.0" font-size="24.5" fill="#000" font-weight="bold" textLength="184.6" lengthAdjust="spacingAndGlyphs">Simulation data</text>
<text x="900.1" y="311.0" font-size="24" fill="#000" font-weight="bold" textLength="232.7" lengthAdjust="spacingAndGlyphs">SiC planar MOSFET</text>
<text x="899.5" y="342.5" font-size="24" fill="#000" font-weight="bold" textLength="19.5" lengthAdjust="spacingAndGlyphs" font-style="italic">V</text>
<text x="917.0" y="353.3" font-size="13.5" fill="#000" font-weight="bold" textLength="21.5" lengthAdjust="spacingAndGlyphs">GS</text>
<text x="944.3" y="342.5" font-size="24" fill="#000" font-weight="bold" textLength="93.5" lengthAdjust="spacingAndGlyphs">= 10.0 V</text>
<text x="901.5" y="385.3" font-size="24" fill="#000" font-weight="bold" textLength="14.6" lengthAdjust="spacingAndGlyphs" font-style="italic">L</text>
<text x="915.4" y="394.7" font-size="13.5" fill="#000" font-weight="bold" textLength="17.3" lengthAdjust="spacingAndGlyphs">ch</text>
<text x="938.0" y="385.3" font-size="24" fill="#000" font-weight="bold" textLength="34.4" lengthAdjust="spacingAndGlyphs">= 8</text>
<text x="980.2" y="385.3" font-size="26" fill="#000" font-weight="normal" textLength="13.5" lengthAdjust="spacingAndGlyphs" font-family="'Liberation Serif', serif">μ</text>
<text x="993.6" y="385.3" font-size="24" fill="#000" font-weight="bold" textLength="23.6" lengthAdjust="spacingAndGlyphs">m</text>
<text x="901.1" y="425.3" font-size="24" fill="#000" font-weight="bold" textLength="24.6" lengthAdjust="spacingAndGlyphs" font-style="italic">W</text>
<text x="931.3" y="425.3" font-size="24" fill="#000" font-weight="bold" textLength="47.0" lengthAdjust="spacingAndGlyphs">= 10</text>
<text x="986.4" y="425.3" font-size="26" fill="#000" font-weight="normal" textLength="13.7" lengthAdjust="spacingAndGlyphs" font-family="'Liberation Serif', serif">μ</text>
<text x="1000.4" y="425.3" font-size="24" fill="#000" font-weight="bold" textLength="22.2" lengthAdjust="spacingAndGlyphs">m</text>
<rect x="14.8" y="622.8" width="238.7" height="72.5" fill="#04ad50" stroke="#0d6b38" stroke-width="1"/>
<text x="20.8" y="687.3" font-size="15" fill="#0c1a10" font-weight="bold" textLength="76.8" lengthAdjust="spacingAndGlyphs">4H-SiC epi</text>
<text x="225.6" y="685.0" font-size="15" fill="#fff" font-weight="bold" textLength="21.2" lengthAdjust="spacingAndGlyphs">(a)</text>
<path d="M123.7 723.7H137.3V735.6H144.3L130.5 747.5L116.7 735.6H123.7Z" fill="#1c6389"/>
<rect x="15.3" y="768.8" width="238.7" height="71.1" fill="#04ad50" stroke="#0d6b38" stroke-width="1"/>
<rect x="27.6" y="768.8" width="213.2" height="38.3" fill="#0a56f5" stroke="#0a2f9a" stroke-width="1"/>
<rect x="35.9" y="769.6" width="72.4" height="23.2" fill="#ffc208" stroke="#6b4a10" stroke-width="1"/>
<rect x="159.5" y="769.6" width="72.4" height="23.2" fill="#ffc208" stroke="#6b4a10" stroke-width="1"/>
<path d="M15.3 768.8H254.0" stroke="#0d6b38" stroke-width="1"/>
<text x="48.4" y="785.2" font-size="15.5" fill="#2a1602" font-weight="bold" textLength="48.4" lengthAdjust="spacingAndGlyphs">Source</text>
<text x="177.4" y="786.2" font-size="15.5" fill="#2a1602" font-weight="bold" textLength="40.0" lengthAdjust="spacingAndGlyphs">Drain</text>
<text x="111.2" y="802.8" font-size="15.5" fill="#07126c" font-weight="bold" textLength="45.5" lengthAdjust="spacingAndGlyphs">P-well</text>
<text x="21.6" y="833.3" font-size="15" fill="#0c1a10" font-weight="bold" textLength="76.8" lengthAdjust="spacingAndGlyphs">4H-SiC epi</text>
<text x="226.3" y="833.0" font-size="15" fill="#fff" font-weight="bold" textLength="21.9" lengthAdjust="spacingAndGlyphs">(b)</text>
<path d="M121.7 865.4H135.3V877.3H142.3L128.5 889.2L114.7 877.3H121.7Z" fill="#1c6389"/>
<rect x="15.3" y="907.0" width="238.7" height="71.9" fill="#04ad50" stroke="#0d6b38" stroke-width="1"/>
<rect x="27.6" y="907.0" width="213.2" height="38.3" fill="#0a56f5" stroke="#0a2f9a" stroke-width="1"/>
<rect x="35.9" y="907.8" width="72.4" height="23.2" fill="#ffc208" stroke="#6b4a10" stroke-width="1"/>
<rect x="159.5" y="907.8" width="72.4" height="23.2" fill="#ffc208" stroke="#6b4a10" stroke-width="1"/>
<path d="M15.3 907H254.0" stroke="#0d6b38" stroke-width="1"/>
<rect x="89.2" y="900.5" width="94.4" height="6.5" fill="#a9a9a9" stroke="#555" stroke-width="1"/>
<text x="49.6" y="924.9" font-size="15.5" fill="#2a1602" font-weight="bold" textLength="48.4" lengthAdjust="spacingAndGlyphs">Source</text>
<text x="178.5" y="924.4" font-size="15.5" fill="#2a1602" font-weight="bold" textLength="40.0" lengthAdjust="spacingAndGlyphs">Drain</text>
<text x="111.2" y="941.5" font-size="15.5" fill="#07126c" font-weight="bold" textLength="45.5" lengthAdjust="spacingAndGlyphs">P-well</text>
<text x="21.6" y="971.2" font-size="15" fill="#0c1a10" font-weight="bold" textLength="76.8" lengthAdjust="spacingAndGlyphs">4H-SiC epi</text>
<text x="228.2" y="969.0" font-size="15" fill="#fff" font-weight="bold" textLength="19.9" lengthAdjust="spacingAndGlyphs">(c)</text>
<text x="173.8" y="880.8" font-size="12.7" fill="#111" font-weight="bold" textLength="70.4" lengthAdjust="spacingAndGlyphs">Gate oxide</text>
<text x="191.5" y="896.8" font-size="12.7" font-weight="bold" fill="#111" textLength="35.5" lengthAdjust="spacingAndGlyphs">(SiO<tspan font-size="8.5" dy="2.5">2</tspan><tspan dy="-2.5">)</tspan></text>
<path d="M148.7 904 C148.7 897 153 894.3 162 893.6" fill="none" stroke="#000" stroke-width="2.7"/><path d="M160 888.2L169.6 892.5L161 898.2Z" fill="#000"/>
<path d="M270.8 938.7H283.3V932.1L294.8 945.4L283.3 958.7V952.1H270.8Z" fill="#1c6389"/>
<rect x="306.0" y="907.5" width="238.7" height="71.3" fill="#04ad50" stroke="#0d6b38" stroke-width="1"/>
<rect x="318.3" y="907.5" width="213.2" height="38.3" fill="#0a56f5" stroke="#0a2f9a" stroke-width="1"/>
<rect x="326.6" y="908.3" width="72.4" height="23.2" fill="#ffc208" stroke="#6b4a10" stroke-width="1"/>
<rect x="450.2" y="908.3" width="72.4" height="23.2" fill="#ffc208" stroke="#6b4a10" stroke-width="1"/>
<path d="M306 907.5H544.7" stroke="#0d6b38" stroke-width="1"/>
<rect x="378.0" y="901.3" width="94.0" height="6.2" fill="#a9a9a9" stroke="#555" stroke-width="1"/>
<rect x="378.0" y="873.3" width="94.0" height="28.0" fill="#fb2a08" stroke="#8a1a0a" stroke-width="1"/>
<text x="383.1" y="892.5" font-size="15.5" fill="#4a0d08" font-weight="bold" textLength="85.5" lengthAdjust="spacingAndGlyphs">Poly-si gate</text>
<text x="340.3" y="924.0" font-size="15.5" fill="#2a1602" font-weight="bold" textLength="48.4" lengthAdjust="spacingAndGlyphs">Source</text>
<text x="468.2" y="924.0" font-size="15.5" fill="#2a1602" font-weight="bold" textLength="40.0" lengthAdjust="spacingAndGlyphs">Drain</text>
<text x="401.9" y="940.5" font-size="15.5" fill="#07126c" font-weight="bold" textLength="45.5" lengthAdjust="spacingAndGlyphs">P-well</text>
<text x="312.3" y="970.7" font-size="15" fill="#0c1a10" font-weight="bold" textLength="76.8" lengthAdjust="spacingAndGlyphs">4H-SiC epi</text>
<text x="517.1" y="969.3" font-size="15" fill="#fff" font-weight="bold" textLength="22.2" lengthAdjust="spacingAndGlyphs">(d)</text>
<path d="M424.8 845.3L438.5 856.2H431.7V868.8H417.9V856.2H411.1Z" fill="#1c6389"/>
<rect x="306.0" y="768.9" width="238.7" height="71.6" fill="#04ad50" stroke="#0d6b38" stroke-width="1"/>
<rect x="318.3" y="768.9" width="213.2" height="38.3" fill="#0a56f5" stroke="#0a2f9a" stroke-width="1"/>
<rect x="326.6" y="769.7" width="72.4" height="23.2" fill="#ffc208" stroke="#6b4a10" stroke-width="1"/>
<rect x="450.2" y="769.7" width="72.4" height="23.2" fill="#ffc208" stroke="#6b4a10" stroke-width="1"/>
<path d="M306 768.9H544.7" stroke="#0d6b38" stroke-width="1"/>
<rect x="306.0" y="727.3" width="238.7" height="41.6" fill="#dde8f4" stroke="#435a70" stroke-width="1"/>
<rect x="377.5" y="761.9" width="94.5" height="7.0" fill="#a9a9a9" stroke="#555" stroke-width="1"/>
<rect x="377.5" y="733.9" width="94.5" height="28.0" fill="#fb2a08" stroke="#8a1a0a" stroke-width="1"/>
<text x="382.5" y="753.5" font-size="15.5" fill="#4a0d08" font-weight="bold" textLength="85.5" lengthAdjust="spacingAndGlyphs">Poly-si gate</text>
<text x="328.2" y="744.8" font-size="15.5" fill="#111" font-weight="bold" textLength="24.2" lengthAdjust="spacingAndGlyphs">ILD</text>
<text x="321.5" y="762.8" font-size="15.5" font-weight="bold" fill="#111" textLength="39.5" lengthAdjust="spacingAndGlyphs">(SiO<tspan font-size="9.5" dy="3">2</tspan><tspan dy="-3">)</tspan></text>
<text x="339.3" y="786.8" font-size="15.5" fill="#2a1602" font-weight="bold" textLength="48.4" lengthAdjust="spacingAndGlyphs">Source</text>
<text x="468.2" y="786.8" font-size="15.5" fill="#2a1602" font-weight="bold" textLength="40.0" lengthAdjust="spacingAndGlyphs">Drain</text>
<text x="401.9" y="802.7" font-size="15.5" fill="#07126c" font-weight="bold" textLength="45.5" lengthAdjust="spacingAndGlyphs">P-well</text>
<text x="312.3" y="832.3" font-size="15" fill="#0c1a10" font-weight="bold" textLength="76.8" lengthAdjust="spacingAndGlyphs">4H-SiC epi</text>
<text x="516.7" y="831.6" font-size="15" fill="#fff" font-weight="bold" textLength="20.8" lengthAdjust="spacingAndGlyphs">(e)</text>
<path d="M424.9 700.5L438.6 712.6H431.8V724.5H418.0V712.6H411.2Z" fill="#1c6389"/>
<rect x="305.8" y="624.2" width="238.7" height="71.1" fill="#04ad50" stroke="#0d6b38" stroke-width="1"/>
<rect x="318.1" y="624.2" width="213.2" height="38.3" fill="#0a56f5" stroke="#0a2f9a" stroke-width="1"/>
<rect x="326.4" y="625.0" width="72.4" height="23.2" fill="#ffc208" stroke="#6b4a10" stroke-width="1"/>
<rect x="450.0" y="625.0" width="72.4" height="23.2" fill="#ffc208" stroke="#6b4a10" stroke-width="1"/>
<path d="M305.8 624.2H544.5" stroke="#0d6b38" stroke-width="1"/>
<rect x="305.8" y="582.9" width="36.7" height="41.3" fill="#dde8f4" stroke="#435a70" stroke-width="1"/>
<rect x="365.1" y="582.9" width="118.1" height="41.3" fill="#dde8f4" stroke="#435a70" stroke-width="1"/>
<rect x="506.5" y="582.9" width="38.0" height="41.3" fill="#dde8f4" stroke="#435a70" stroke-width="1"/>
<rect x="376.3" y="617.2" width="94.5" height="7.0" fill="#a9a9a9" stroke="#555" stroke-width="1"/>
<rect x="376.3" y="589.2" width="94.5" height="28.0" fill="#fb2a08" stroke="#8a1a0a" stroke-width="1"/>
<text x="381.9" y="608.5" font-size="15.5" fill="#4a0d08" font-weight="bold" textLength="85.5" lengthAdjust="spacingAndGlyphs">Poly-si gate</text>
<text x="311.6" y="619.5" font-size="15.5" fill="#111" font-weight="bold" textLength="23.8" lengthAdjust="spacingAndGlyphs">ILD</text>
<text x="341.4" y="642.1" font-size="15.5" fill="#2a1602" font-weight="bold" textLength="48.4" lengthAdjust="spacingAndGlyphs">Source</text>
<text x="469.8" y="641.0" font-size="15.5" fill="#2a1602" font-weight="bold" textLength="40.0" lengthAdjust="spacingAndGlyphs">Drain</text>
<text x="401.7" y="657.5" font-size="15.5" fill="#07126c" font-weight="bold" textLength="45.5" lengthAdjust="spacingAndGlyphs">P-well</text>
<text x="312.1" y="687.9" font-size="15" fill="#0c1a10" font-weight="bold" textLength="76.8" lengthAdjust="spacingAndGlyphs">4H-SiC epi</text>
<text x="518.9" y="686.7" font-size="15" fill="#fff" font-weight="bold" textLength="19.0" lengthAdjust="spacingAndGlyphs">(f)</text>
<path d="M560 648.3H572.5V641.7L583.8 655L572.5 668.3V661.7H560Z" fill="#1c6389"/>
<rect x="595.0" y="623.0" width="238.7" height="71.5" fill="#04ad50" stroke="#0d6b38" stroke-width="1"/>
<rect x="607.3" y="623.0" width="213.2" height="38.3" fill="#0a56f5" stroke="#0a2f9a" stroke-width="1"/>
<rect x="615.6" y="623.8" width="72.4" height="23.2" fill="#ffc208" stroke="#6b4a10" stroke-width="1"/>
<rect x="739.2" y="623.8" width="72.4" height="23.2" fill="#ffc208" stroke="#6b4a10" stroke-width="1"/>
<path d="M595 623H833.7" stroke="#0d6b38" stroke-width="1"/>
<rect x="595.0" y="582.5" width="37.5" height="40.5" fill="#dde8f4" stroke="#435a70" stroke-width="1"/>
<rect x="654.5" y="582.5" width="117.5" height="40.5" fill="#dde8f4" stroke="#435a70" stroke-width="1"/>
<rect x="796.3" y="582.5" width="37.4" height="40.5" fill="#dde8f4" stroke="#435a70" stroke-width="1"/>
<rect x="632.5" y="615.4" width="23.1" height="7.6" fill="#c85a17" stroke="#5a2508" stroke-width="1"/>
<rect x="772.8" y="615.4" width="23.0" height="7.6" fill="#c85a17" stroke="#5a2508" stroke-width="1"/>
<rect x="666.3" y="616.3" width="93.2" height="6.7" fill="#a9a9a9" stroke="#555" stroke-width="1"/>
<rect x="666.3" y="588.3" width="93.2" height="28.0" fill="#fb2a08" stroke="#8a1a0a" stroke-width="1"/>
<text x="671.5" y="608.0" font-size="15.5" fill="#4a0d08" font-weight="bold" textLength="85.5" lengthAdjust="spacingAndGlyphs">Poly-si gate</text>
<text x="601.0" y="620.0" font-size="15.5" fill="#111" font-weight="bold" textLength="24.1" lengthAdjust="spacingAndGlyphs">ILD</text>
<text x="630.9" y="641.8" font-size="15.5" fill="#2a1602" font-weight="bold" textLength="48.4" lengthAdjust="spacingAndGlyphs">Source</text>
<text x="759.0" y="640.5" font-size="15.5" fill="#2a1602" font-weight="bold" textLength="40.0" lengthAdjust="spacingAndGlyphs">Drain</text>
<text x="690.9" y="657.0" font-size="15.5" fill="#07126c" font-weight="bold" textLength="45.5" lengthAdjust="spacingAndGlyphs">P-well</text>
<text x="601.3" y="687.5" font-size="15" fill="#0c1a10" font-weight="bold" textLength="76.8" lengthAdjust="spacingAndGlyphs">4H-SiC epi</text>
<text x="806.7" y="683.2" font-size="15" fill="#fff" font-weight="bold" textLength="21.1" lengthAdjust="spacingAndGlyphs">(g)</text>
<text x="765.0" y="579.5" font-size="12.2" fill="#111" font-weight="bold" textLength="39.7" lengthAdjust="spacingAndGlyphs">Ohmic</text>
<text x="773.1" y="595.0" font-size="12.2" fill="#111" font-weight="bold" textLength="22.5" lengthAdjust="spacingAndGlyphs">(Ni)</text>
<path d="M784.6 617.8V606" stroke="#000" stroke-width="2.8"/><path d="M784.6 599.8L789.3 608H779.9Z" fill="#000"/>
<path d="M707.6 721.3H721.2V732.5H728.2L714.4 745L700.6 732.5H707.6Z" fill="#1c6389"/>
<rect x="595.0" y="830.5" width="238.7" height="71.2" fill="#04ad50" stroke="#0d6b38" stroke-width="1"/>
<rect x="607.3" y="830.5" width="213.2" height="38.3" fill="#0a56f5" stroke="#0a2f9a" stroke-width="1"/>
<rect x="615.6" y="831.3" width="72.4" height="23.2" fill="#ffc208" stroke="#6b4a10" stroke-width="1"/>
<rect x="739.2" y="831.3" width="72.4" height="23.2" fill="#ffc208" stroke="#6b4a10" stroke-width="1"/>
<path d="M595 830.5H833.7" stroke="#0d6b38" stroke-width="1"/>
<rect x="595.0" y="790.0" width="37.5" height="40.5" fill="#dde8f4" stroke="#435a70" stroke-width="1"/>
<rect x="655.8" y="788.7" width="117.2" height="41.8" fill="#dde8f4" stroke="#435a70" stroke-width="1"/>
<rect x="795.9" y="790.0" width="37.8" height="40.5" fill="#dde8f4" stroke="#435a70" stroke-width="1"/>
<path d="M594.6 776.2H655.8V823H632.4V790H594.6Z" fill="#272727"/>
<path d="M834.1 776.2H773V823H795.9V790H834.1Z" fill="#272727"/>
<rect x="632.5" y="822.7" width="23.1" height="7.8" fill="#c85a17" stroke="#5a2508" stroke-width="1"/>
<rect x="772.8" y="822.7" width="23.0" height="7.8" fill="#c85a17" stroke="#5a2508" stroke-width="1"/>
<rect x="667.5" y="823.6" width="94.3" height="6.9" fill="#a9a9a9" stroke="#555" stroke-width="1"/>
<rect x="667.5" y="795.6" width="94.3" height="28.0" fill="#fb2a08" stroke="#8a1a0a" stroke-width="1"/>
<text x="672.8" y="815.3" font-size="15.5" fill="#4a0d08" font-weight="bold" textLength="85.5" lengthAdjust="spacingAndGlyphs">Poly-si gate</text>
<text x="600.5" y="827.0" font-size="15.5" fill="#111" font-weight="bold" textLength="25.0" lengthAdjust="spacingAndGlyphs">ILD</text>
<text x="630.3" y="848.0" font-size="15.5" fill="#2a1602" font-weight="bold" textLength="48.4" lengthAdjust="spacingAndGlyphs">Source</text>
<text x="758.5" y="846.8" font-size="15.5" fill="#2a1602" font-weight="bold" textLength="40.0" lengthAdjust="spacingAndGlyphs">Drain</text>
<text x="690.9" y="864.3" font-size="15.5" fill="#07126c" font-weight="bold" textLength="45.5" lengthAdjust="spacingAndGlyphs">P-well</text>
<text x="601.3" y="894.2" font-size="15" fill="#0c1a10" font-weight="bold" textLength="76.8" lengthAdjust="spacingAndGlyphs">4H-SiC epi</text>
<text x="808.4" y="893.5" font-size="15" fill="#fff" font-weight="bold" textLength="20.9" lengthAdjust="spacingAndGlyphs">(h)</text>
<text x="669.4" y="775.0" font-size="13.3" fill="#111" font-weight="bold" textLength="93.1" lengthAdjust="spacingAndGlyphs">Pad metal (Al)</text>
<path d="M784 779.6 C784 772.5 780 770 773 769.8" fill="none" stroke="#000" stroke-width="2.7"/><path d="M775.7 764.6L766.5 769.4L775.2 775Z" fill="#000"/>
<path d="M856.2 561.5H865.4V977.5L875.2 966.5L860.8 994.8L846.5 966.5L856.2 977.5Z" fill="#fe0000"/>
<circle cx="860.8" cy="586" r="8.5" fill="#4e95d9" stroke="#0e2841" stroke-width="3.6"/>
<circle cx="860.8" cy="639.1" r="8.5" fill="#4e95d9" stroke="#0e2841" stroke-width="3.6"/>
<circle cx="860.8" cy="682" r="8.5" fill="#4e95d9" stroke="#0e2841" stroke-width="3.6"/>
<circle cx="860.8" cy="714.5" r="8.5" fill="#4e95d9" stroke="#0e2841" stroke-width="3.6"/>
<circle cx="860.8" cy="747.1" r="8.5" fill="#4e95d9" stroke="#0e2841" stroke-width="3.6"/>
<circle cx="860.8" cy="781" r="8.5" fill="#4e95d9" stroke="#0e2841" stroke-width="3.6"/>
<circle cx="860.8" cy="812.5" r="8.5" fill="#4e95d9" stroke="#0e2841" stroke-width="3.6"/>
<circle cx="860.8" cy="845.5" r="8.5" fill="#4e95d9" stroke="#0e2841" stroke-width="3.6"/>
<circle cx="860.8" cy="889.6" r="8.5" fill="#4e95d9" stroke="#0e2841" stroke-width="3.6"/>
<circle cx="860.8" cy="932.5" r="8.5" fill="#4e95d9" stroke="#0e2841" stroke-width="3.6"/>
<text x="886.0" y="579.7" font-size="18.5" fill="#111" font-weight="bold" textLength="217.7" lengthAdjust="spacingAndGlyphs">Source / Drain formation</text>
<text x="885.6" y="601.0" font-size="18.5" fill="#111" font-weight="bold" textLength="205.9" lengthAdjust="spacingAndGlyphs">(Nitrogen implantation)</text>
<text x="885.2" y="634.0" font-size="18.5" fill="#111" font-weight="bold" textLength="146.4" lengthAdjust="spacingAndGlyphs">P-well formation</text>
<text x="885.6" y="655.4" font-size="18.5" fill="#111" font-weight="bold" textLength="194.4" lengthAdjust="spacingAndGlyphs">(Aluminum formation)</text>
<text x="1086.0" y="655.4" font-size="18.5" fill="#c8141c" font-weight="bold" textLength="40.5" lengthAdjust="spacingAndGlyphs">– (b)</text>
<text x="885.3" y="688.0" font-size="18.5" fill="#111" font-weight="bold" textLength="162.8" lengthAdjust="spacingAndGlyphs">Dopants activation</text>
<text x="886.0" y="720.1" font-size="18.5" fill="#111" font-weight="bold" textLength="232.2" lengthAdjust="spacingAndGlyphs">Sacrificial oxidation &amp; BOE</text>
<text x="885.8" y="752.5" font-size="18.5" fill="#111" font-weight="bold" textLength="213.1" lengthAdjust="spacingAndGlyphs">Gate oxidation (Furnace)</text>
<text x="1104.9" y="752.5" font-size="18.5" fill="#c8141c" font-weight="bold" textLength="38.4" lengthAdjust="spacingAndGlyphs">– (c)</text>
<text x="885.3" y="785.5" font-size="18.5" fill="#111" font-weight="bold" textLength="231.6" lengthAdjust="spacingAndGlyphs">Poly-si deposition (LPCVD)</text>
<text x="1122.9" y="785.5" font-size="18.5" fill="#c8141c" font-weight="bold" textLength="40.5" lengthAdjust="spacingAndGlyphs">– (d)</text>
<text x="885.3" y="817.9" font-size="18.5" fill="#111" font-weight="bold" textLength="257.1" lengthAdjust="spacingAndGlyphs">ILD deposition (LPCVD, TEOS)</text>
<text x="1149.0" y="817.9" font-size="18.5" fill="#c8141c" font-weight="bold" textLength="39.3" lengthAdjust="spacingAndGlyphs">– (e)</text>
<text x="885.8" y="850.0" font-size="18.5" fill="#111" font-weight="bold" textLength="116.8" lengthAdjust="spacingAndGlyphs">Contact open</text>
<text x="1008.3" y="850.0" font-size="18.5" fill="#c8141c" font-weight="bold" textLength="36.1" lengthAdjust="spacingAndGlyphs">– (f)</text>
<text x="885.8" y="883.0" font-size="18.5" fill="#111" font-weight="bold" textLength="125.5" lengthAdjust="spacingAndGlyphs">Ohmic contact</text>
<text x="885.6" y="904.0" font-size="18.5" fill="#111" font-weight="bold" textLength="191.7" lengthAdjust="spacingAndGlyphs">(Ni deposition &amp; RTA)</text>
<text x="1083.9" y="904.0" font-size="18.5" fill="#c8141c" font-weight="bold" textLength="39.6" lengthAdjust="spacingAndGlyphs">– (g)</text>
<text x="885.3" y="936.4" font-size="18.5" fill="#111" font-weight="bold" textLength="179.4" lengthAdjust="spacingAndGlyphs">Pad metal formation</text>
<text x="1070.4" y="936.4" font-size="18.5" fill="#c8141c" font-weight="bold" textLength="39.6" lengthAdjust="spacingAndGlyphs">– (h)</text>
</svg>
</body></html>
